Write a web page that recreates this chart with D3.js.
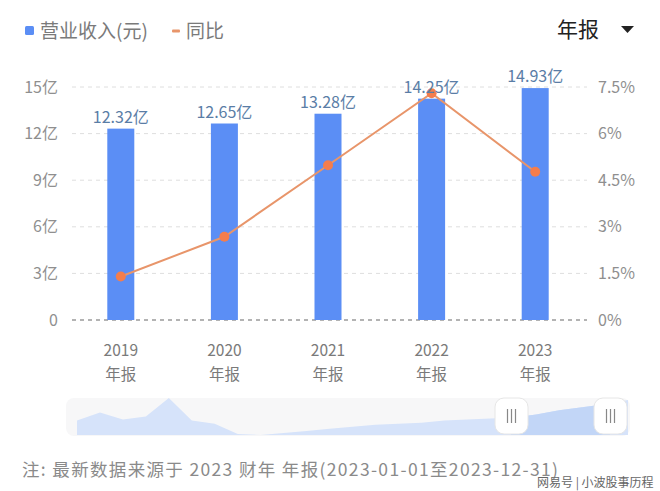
<!DOCTYPE html>
<html><head><meta charset="utf-8">
<script src="https://cdn.jsdelivr.net/npm/d3@7/dist/d3.min.js"></script>
<style>
body{margin:0;background:#fff;}
svg{display:block;font-family:"Noto Sans CJK SC","Noto Sans",sans-serif;}
</style></head>
<body><svg id="c" width="660" height="491"></svg>
<script>
const categories = ["2019","2020","2021","2022","2023"];
const periodLabel = "年报";
const revenue = [12.32, 12.65, 13.28, 14.25, 14.93];
const revenueLabels = ["12.32亿","12.65亿","13.28亿","14.25亿","14.93亿"];
const growth = [1.40, 2.68, 4.98, 7.30, 4.77];
const leftTicks = [0,3,6,9,12,15];
const leftTickLabels = ["0","3亿","6亿","9亿","12亿","15亿"];
const rightTicks = [0,1.5,3,4.5,6,7.5];
const rightTickLabels = ["0%","1.5%","3%","4.5%","6%","7.5%"];
const sliderHistory = [14,22,15,18,36,14,11,1,0,2,4,6,8,10,11,12,14,15,16,17,20,24,27,30,34];

const svg = d3.select("#c");
const x = d3.scaleBand().domain(categories).range([69,587]).paddingInner(0).paddingOuter(0);
const yL = d3.scaleLinear().domain([0,15]).range([320,87]);
const yR = d3.scaleLinear().domain([0,7.5]).range([320,87]);

// grid
svg.append("g").selectAll("line").data(leftTicks).join("line")
  .attr("x1",72).attr("x2",587)
  .attr("y1",d=>yL(d)).attr("y2",d=>yL(d))
  .attr("stroke",d=>d===0?"#9a9a9a":"#dedede")
  .attr("stroke-width",d=>d===0?1.3:1)
  .attr("stroke-dasharray","4,4");

// left axis labels
svg.append("g").selectAll("text").data(leftTicks).join("text")
  .attr("x",58).attr("y",d=>yL(d)).attr("dy","0.35em")
  .attr("text-anchor","end").attr("fill","#8f8f8f").attr("font-size",16)
  .text((d,i)=>leftTickLabels[i]);
// right axis labels
svg.append("g").selectAll("text").data(rightTicks).join("text")
  .attr("x",598).attr("y",d=>yR(d)).attr("dy","0.35em")
  .attr("text-anchor","start").attr("fill","#8f8f8f").attr("font-size",16)
  .text((d,i)=>rightTickLabels[i]);

// bars
const bw = 27;
svg.append("g").selectAll("rect").data(revenue).join("rect")
  .attr("x",(d,i)=>x(categories[i])+x.bandwidth()/2-bw/2)
  .attr("width",bw)
  .attr("y",d=>yL(d)).attr("height",d=>yL(0)-yL(d))
  .attr("fill","#5b8ef5");

// line
const line = d3.line().x((d,i)=>x(categories[i])+x.bandwidth()/2).y(d=>yR(d));
svg.append("path").datum(growth).attr("d",line)
  .attr("fill","none").attr("stroke","#e8956a").attr("stroke-width",2);
svg.append("g").selectAll("circle").data(growth).join("circle")
  .attr("cx",(d,i)=>x(categories[i])+x.bandwidth()/2).attr("cy",d=>yR(d))
  .attr("r",5).attr("fill","#f47d4c");

// bar labels
svg.append("g").selectAll("text").data(revenue).join("text")
  .attr("x",(d,i)=>x(categories[i])+x.bandwidth()/2)
  .attr("y",d=>yL(d)-6)
  .attr("text-anchor","middle").attr("fill","#5a7da6").attr("font-size",16)
  .text((d,i)=>revenueLabels[i]);

// x labels (two-line)
const xt = svg.append("g").selectAll("text").data(categories).join("text")
  .attr("text-anchor","middle").attr("fill","#7a7a7a").attr("font-size",15.5);
xt.append("tspan").attr("x",d=>x(d)+x.bandwidth()/2).attr("y",356).text(d=>d);
xt.append("tspan").attr("x",d=>x(d)+x.bandwidth()/2).attr("y",380).text(periodLabel);

// legend
svg.append("rect").attr("x",25).attr("y",26).attr("width",9).attr("height",9).attr("rx",1.5).attr("fill","#5b8ef5");
svg.append("text").attr("x",40).attr("y",31).attr("dy","0.35em").attr("fill","#7a7a7a").attr("font-size",19).text("营业收入(元)");
svg.append("rect").attr("x",172).attr("y",29.5).attr("width",8).attr("height",3).attr("rx",1).attr("fill","#e8956a");
svg.append("text").attr("x",186).attr("y",31).attr("dy","0.35em").attr("fill","#7a7a7a").attr("font-size",19).text("同比");
svg.append("text").attr("x",557).attr("y",30).attr("dy","0.35em").attr("fill","#222").attr("font-size",21).text("年报");
svg.append("path").attr("d","M621,26 L634,26 L627.5,33 Z").attr("fill","#222");

// slider
svg.append("rect").attr("x",66).attr("y",398).attr("width",564).attr("height",38).attr("rx",8).attr("fill","#f7f7f8");
const sx = d3.scaleLinear().domain([0,sliderHistory.length-1]).range([77,628]);
const sy = d3.scaleLinear().domain([0,36]).range([435,398]);
const area = d3.area().x((d,i)=>sx(i)).y0(435).y1(d=>sy(d));
svg.append("path").datum(sliderHistory).attr("d",area).attr("fill","#d6e3fa");
svg.append("defs").append("clipPath").attr("id","sel").append("rect").attr("x",511).attr("y",390).attr("width",99).attr("height",50);
svg.append("path").datum(sliderHistory).attr("d",area).attr("fill","#c2d6f7").attr("clip-path","url(#sel)");
[495,594].forEach(hx=>{
  svg.append("rect").attr("x",hx).attr("y",398).attr("width",33).attr("height",36).attr("rx",9)
    .attr("fill","#fff").attr("stroke","#e6e6e6");
  [-4,0,4].forEach(o=>svg.append("line").attr("x1",hx+16.5+o).attr("x2",hx+16.5+o).attr("y1",409).attr("y2",423).attr("stroke","#888").attr("stroke-width",1.2));
});

// footer
svg.append("text").attr("x",22).attr("y",476).attr("fill","#8a8a8a").attr("font-size",17.5)
  .attr("textLength",536).attr("lengthAdjust","spacing")
  .text("注: 最新数据来源于 2023 财年 年报(2023-01-01至2023-12-31)");
svg.append("text").attr("x",537).attr("y",487).attr("fill","#666").attr("font-size",12).text("网易号 | 小波股事历程");
</script></body></html>
